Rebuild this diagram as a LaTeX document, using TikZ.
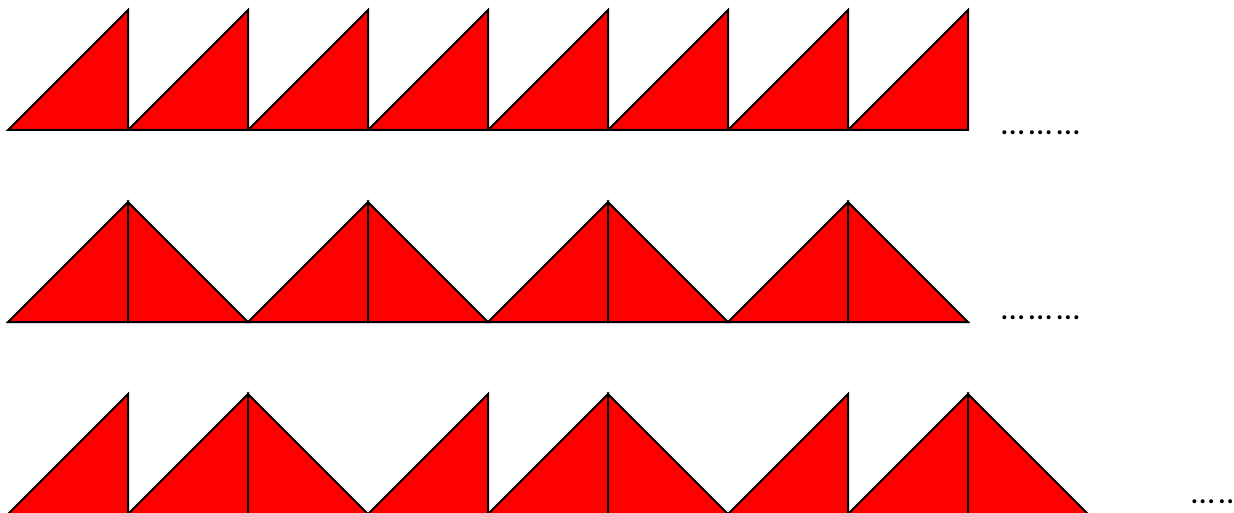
\documentclass[tikz,border=0pt]{standalone}
\usepackage{fontspec}
\setmainfont{Carlito}
\newcommand{\dotgap}{\kern3.5pt}
\begin{document}
\begin{tikzpicture}[x=0.75pt,y=-0.75pt,
  tri/.style={fill=red,draw=black,line width=1.5pt,line join=miter},
  base/.style={draw=black,line width=1.5pt},
  dots/.style={font=\fontsize{25}{30}\selectfont,inner sep=0pt,anchor=base west}]
\useasboundingbox (0,0) rectangle (1234,513);
\clip (0,0) rectangle (1234,513);
% Row 1
\foreach \i in {0,...,7}{
  \pgfmathsetmacro{\xa}{8+120*\i}
  \filldraw[tri] (\xa,130) -- (\xa+120,130) -- (\xa+120,10) -- cycle;
}
\draw[base] (8,130) -- (968,130);
\node[dots] (d1) at (1001,135) {…\dotgap…\dotgap…};
% Row 2
\foreach \i in {0,...,3}{
  \pgfmathsetmacro{\xa}{8+240*\i}
  \filldraw[tri] (\xa,322) -- (\xa+120,322) -- (\xa+120,202) -- cycle;
  \filldraw[tri] (\xa+120,322) -- (\xa+240,322) -- (\xa+120,202) -- cycle;
}
\draw[base] (8,322) -- (968,322);
\node[dots] (d2) at (1001,319) {…\dotgap…\dotgap…};
% Row 3
\foreach \xa in {8,128,368,488,728,848}{
  \filldraw[tri] (\xa,514) -- (\xa+120,514) -- (\xa+120,394) -- cycle;
}
\foreach \xa in {248,608,968}{
  \filldraw[tri] (\xa,514) -- (\xa+120,514) -- (\xa,394) -- cycle;
}
\node[dots] (d3) at (1191,503) {…\dotgap…\dotgap…};
\end{tikzpicture}
\end{document}
